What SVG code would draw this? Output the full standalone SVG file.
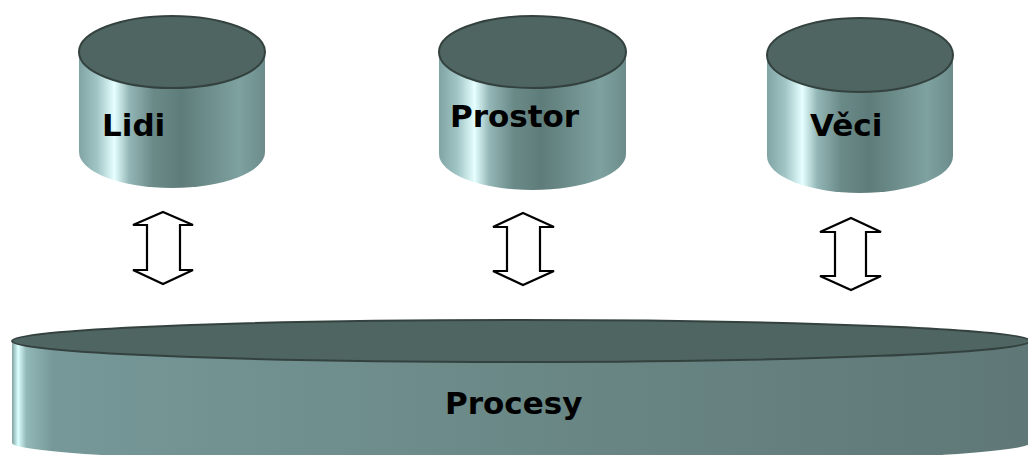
<svg xmlns="http://www.w3.org/2000/svg" width="1028" height="455" viewBox="0 0 1028 455">
<defs>
<linearGradient id="gs" x1="0" y1="0" x2="1" y2="0">
<stop offset="0" stop-color="#80a4a4"/>
<stop offset="0.1" stop-color="#a2c6c6"/>
<stop offset="0.19" stop-color="#e6ffff"/>
<stop offset="0.27" stop-color="#93b6b6"/>
<stop offset="0.4" stop-color="#6a8a88"/>
<stop offset="0.55" stop-color="#5e7c7a"/>
<stop offset="0.72" stop-color="#6f908e"/>
<stop offset="0.86" stop-color="#7ea2a0"/>
<stop offset="1" stop-color="#6c8c8c"/>
</linearGradient>
<linearGradient id="gb" gradientUnits="userSpaceOnUse" x1="12" y1="0" x2="1030" y2="0">
<stop offset="0" stop-color="#7ea2a2"/>
<stop offset="0.006" stop-color="#dcffff"/>
<stop offset="0.014" stop-color="#93b8b8"/>
<stop offset="0.04" stop-color="#769898"/>
<stop offset="0.5" stop-color="#6a8886"/>
<stop offset="1" stop-color="#5f7777"/>
</linearGradient>
</defs>
<style>
.top{fill:#4f6561;stroke:#34423f;stroke-width:2}
.lbl{font-family:"DejaVu Sans",Verdana,sans-serif;font-weight:bold;font-size:31px;fill:#000}
.arr{fill:#fff;stroke:#000;stroke-width:2.2;stroke-linejoin:miter}
</style>
<g id="procesy">
<path d="M12,341 L12,443 A509,21 0 0 0 1030,443 L1030,341 Z" fill="url(#gb)"/>
<ellipse class="top" cx="521" cy="341" rx="509" ry="21"/>
<text class="lbl" x="445" y="414">Procesy</text>
</g>
<g id="lidi">
<path d="M79,52 L79,152 A93,36 0 0 0 265,152 L265,52 Z" fill="url(#gs)"/>
<ellipse class="top" cx="172" cy="52" rx="93" ry="36"/>
<text class="lbl" x="102" y="136">Lidi</text>
</g>
<g id="prostor">
<path d="M439,52 L439,154 A93.5,36 0 0 0 626,154 L626,52 Z" fill="url(#gs)"/>
<ellipse class="top" cx="532.5" cy="52" rx="93.5" ry="36"/>
<text class="lbl" x="450" y="127">Prostor</text>
</g>
<g id="veci">
<path d="M767,55 L767,156 A93,37 0 0 0 953,156 L953,55 Z" fill="url(#gs)"/>
<ellipse class="top" cx="860" cy="55" rx="93" ry="37"/>
<text class="lbl" x="810" y="136">Věci</text>
</g>
<g id="connectors">
<path class="arr" d="M163,212 L193,225 L180,225 L180,270 L193,270 L163,284 L133,270 L147,270 L147,225 L133,225 Z"/>
<path class="arr" d="M523,213 L554,227 L540,227 L540,271 L554,271 L523,285 L493,271 L507,271 L507,227 L493,227 Z"/>
<path class="arr" d="M851,218 L881,232 L866,232 L866,276 L881,276 L851,290 L820,276 L835,276 L835,232 L820,232 Z"/>
</g>
</svg>
